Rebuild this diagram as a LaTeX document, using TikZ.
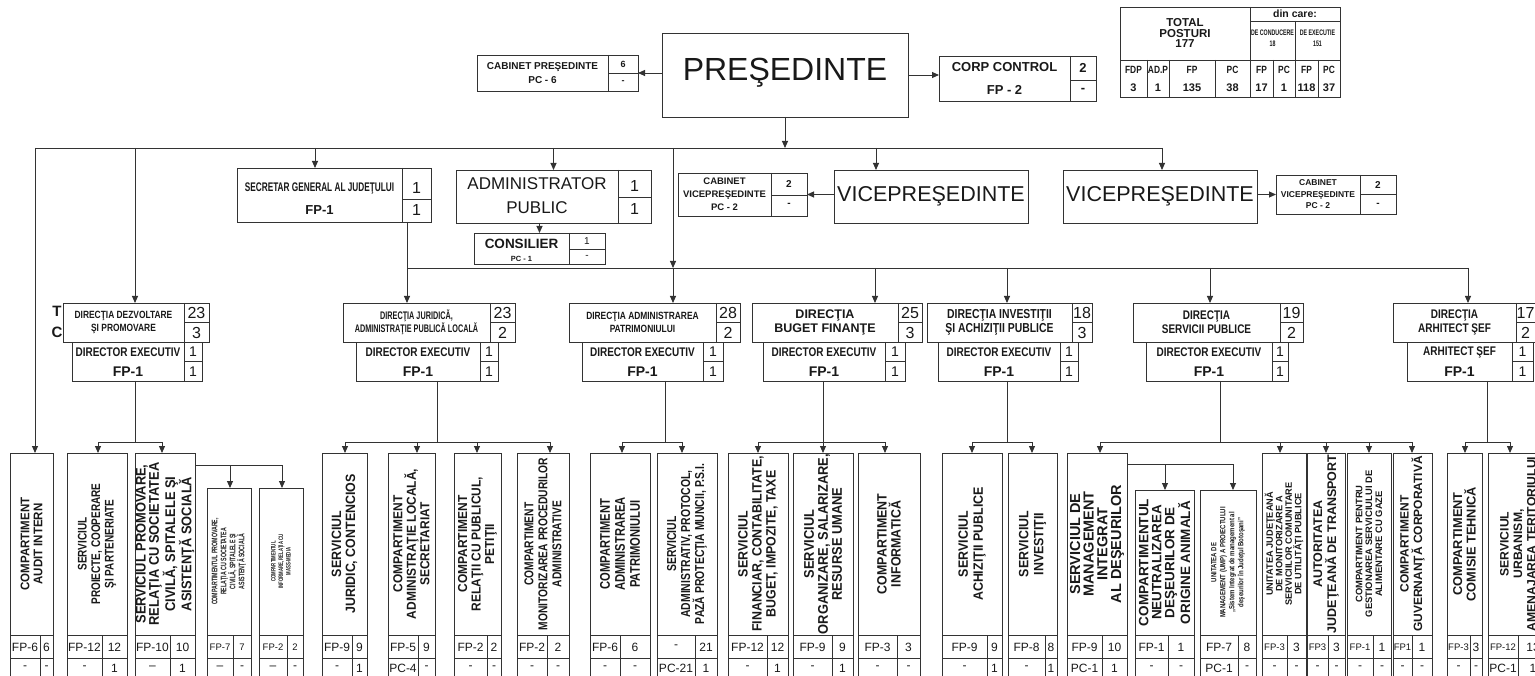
\documentclass[tikz,border=0pt]{standalone}
\usepackage{fontspec}
\setmainfont{Liberation Sans}
\newfontfamily\ffa[FakeStretch=0.92]{Liberation Sans}
\newfontfamily\ffb[FakeStretch=0.8]{Liberation Sans}
\newfontfamily\ffc[FakeStretch=0.66]{Liberation Sans}
\usetikzlibrary{arrows.meta,calc}
\newcommand\fs[2]{\fontsize{#1}{#2}\selectfont}
\newcommand\sm{\fontsize{9.5}{9.5}\selectfont}
\def\pfirst#1/#2\relax{#1}
\def\psecond#1/#2\relax{#2}
\tikzset{
  ln/.style={line width=0.9pt, draw=black!80},
  arr/.style={ln, -{Triangle[length=7pt,width=6pt]}},
  bx/.style={ln, draw, rectangle, inner sep=0pt, outer sep=0pt, anchor=north west},
  tx/.style={inner sep=0pt, align=center, text=black!90},
}
\newcommand\rbox[5]{%
  \pgfmathsetmacro\rbw{#4-#2}\pgfmathsetmacro\rbh{#5-#3}%
  \node[bx, minimum width=\rbw pt, minimum height=\rbh pt] (#1) at (#2,#3) {};}
\newcommand\unitbx[9]{%
  \rbox{#1}{#2}{#5}{#3}{635}%
  \node[tx, rotate=90, font={#6}] (#1-t) at (#1.center) {#7};%
  \pgfmathsetmacro\uxa{(#2+#4)/2}\pgfmathsetmacro\uxb{(#4+#3)/2}%
  \draw[ln] (#2,635) -- (#2,690) (#3,635) -- (#3,690) (#4,635) -- (#4,690) (#2,658) -- (#3,658);%
  \node[tx, font=\fs{12}{12}] (#1-a) at (\uxa,647) {\pfirst#8\relax};%
  \node[tx, font=\fs{12}{12}] (#1-b) at (\uxb,647) {\psecond#8\relax};%
  \node[tx, font=\fs{12}{12}] (#1-c) at (\uxa,668) {\pfirst#9\relax};%
  \node[tx, font=\fs{12}{12}] (#1-d) at (\uxb,668) {\psecond#9\relax};}
\newcommand\dirbx[8]{%
  \rbox{#1}{#2}{303}{#3}{342}%
  \draw[ln] (#4,303) -- (#4,342) (#4,322.5) -- (#3,322.5);%
  \pgfmathsetmacro\uxa{(#2+#4)/2}\pgfmathsetmacro\uxb{(#4+#3)/2}%
  \node[tx, font={#5}] (#1-t) at (\uxa,322.5) {#6};%
  \node[tx, font=\fs{16}{16}] (#1-a) at (\uxb,313) {#7};%
  \node[tx, font=\fs{16}{16}] (#1-b) at (\uxb,332.5) {#8};}
\newcommand\direx[7]{%
  \rbox{#1}{#2}{342}{#3}{381}%
  \draw[ln] (#4,342) -- (#4,381) (#4,361.5) -- (#3,361.5);%
  \pgfmathsetmacro\uxa{(#2+#4)/2}\pgfmathsetmacro\uxb{(#4+#3)/2}%
  \node[tx, font={#5}] (#1-t) at (\uxa,352) {#6};%
  \node[tx, font=\bfseries\fs{14}{14}] (#1-f) at (\uxa,371.5) {FP-1};%
  \node[tx, font=\fs{14}{14}] (#1-a) at (\uxb,352) {#7};%
  \node[tx, font=\fs{14}{14}] (#1-b) at (\uxb,371.5) {#7};}
\newcommand\drop[2]{\draw[arr] (#2,442) -- (#2,442 |- #1.north);}

\begin{document}
\begin{tikzpicture}[x=1pt,y=-1pt]
\path[use as bounding box] (0,0) rectangle (1535,676);
\fill[white] (0,0) rectangle (1535,676);
\clip (0,0) rectangle (1535,676);

% ---------- top row ----------
\rbox{cp}{477}{55}{638}{91}
\draw[ln] (608,55) -- (608,91) (608,73) -- (638,73);
\node[tx, font=\bfseries\fs{10}{14}] (cp-t) at (542.5,73) {CABINET PREŞEDINTE\\PC - 6};
\node[tx, font=\bfseries\fs{9}{9}] (cp-a) at (623,64) {6};
\node[tx, font=\bfseries\fs{9}{9}] (cp-b) at (623,82) {-};

\rbox{pres}{662}{33}{908}{117}
\node[tx, font=\fs{32}{32}] (pres-t) at (785,73) {PREŞEDINTE};

\rbox{cc}{939}{56}{1096}{101}
\draw[ln] (1070,56) -- (1070,101) (1070,80) -- (1096,80);
\node[tx, font=\bfseries\fs{13}{13}] (cc-t) at (1004.5,67) {CORP CONTROL};
\node[tx, font=\bfseries\fs{13}{13}] (cc-f) at (1004.5,90) {FP - 2};
\node[tx, font=\bfseries\fs{13}{13}] (cc-a) at (1083,68) {2};
\node[tx, font=\bfseries\fs{13}{13}] (cc-b) at (1083,90) {-};

\draw[arr] (pres.west |- cp.east) -- (cp.east);
\draw[arr] (pres.east) -- (cc.west |- pres.east);

% ---------- total table ----------
\draw[ln] (1120,7) rectangle (1340,97);
\draw[ln] (1120,60) -- (1340,60) (1250,7) -- (1250,97) (1250,21) -- (1340,21) (1295,21) -- (1295,97);
\draw[ln] (1147,60) -- (1147,97) (1169,60) -- (1169,97) (1215,60) -- (1215,97) (1273,60) -- (1273,97) (1318,60) -- (1318,97);
\node[tx, font=\bfseries\fs{11.5}{10.5}] (tot) at (1185,33) {TOTAL\\POSTURI\\177};
\node[tx, font=\bfseries\fs{10.5}{10.5}] (dc) at (1295,14) {din care:};
\node[tx, font=\ffc\bfseries\fs{8}{11}] (dcc) at (1272.5,38) {DE CONDUCERE\\18};
\node[tx, font=\ffc\bfseries\fs{8}{11}] (dce) at (1317.5,38) {DE EXECUTIE\\151};
\foreach \nm/\xx/\hh/\vv in {h1/1133.5/FDP/3, h2/1158/AD.P/1, h3/1192/FP/135, h4/1232.5/PC/38, h5/1261.5/FP/17, h6/1284/PC/1, h7/1306.5/FP/118, h8/1329/PC/37}{
  \node[tx, font=\ffb\bfseries\fs{10.5}{10.5}] (\nm) at (\xx,70) {\hh};
  \node[tx, font=\bfseries\fs{11}{11}] (\nm v) at (\xx,88) {\vv};
}

% ---------- second row ----------
\rbox{sg}{237}{168}{431}{222}
\draw[ln] (402,168) -- (402,222) (402,199) -- (431,199);
\node[tx, font=\ffc\bfseries\fs{12.5}{12.5}] (sg-t) at (319.5,188) {SECRETAR GENERAL AL JUDEŢULUI};
\node[tx, font=\bfseries\fs{13}{13}] (sg-f) at (319.5,210) {FP-1};
\node[tx, font=\fs{16}{16}] (sg-a) at (416.5,188) {1};
\node[tx, font=\fs{16}{16}] (sg-b) at (416.5,210) {1};

\rbox{ap}{456}{170}{651}{223}
\draw[ln] (618,170) -- (618,223) (618,197) -- (651,197);
\node[tx, font=\fs{17}{24}] (ap-t) at (537,196) {ADMINISTRATOR\\PUBLIC};
\node[tx, font=\fs{16}{16}] (ap-a) at (634.5,186) {1};
\node[tx, font=\fs{16}{16}] (ap-b) at (634.5,209) {1};

\rbox{cons}{474}{233}{605}{264}
\draw[ln] (569,233) -- (569,264) (569,249) -- (605,249);
\node[tx, font=\bfseries\fs{13.5}{13.5}] (cons-t) at (521.5,244) {CONSILIER};
\node[tx, font=\bfseries\fs{7.5}{7.5}] (cons-f) at (521.5,259) {PC - 1};
\node[tx, font=\fs{10}{10}] (cons-a) at (587,241) {1};
\node[tx, font=\fs{10}{10}] (cons-b) at (587,257) {-};

\rbox{cv1}{678}{173}{807}{216}
\draw[ln] (771,173) -- (771,216) (771,195) -- (807,195);
\node[tx, font=\bfseries\fs{9.5}{13}] (cv1-t) at (724.5,194.5) {CABINET\\VICEPREŞEDINTE\\PC - 2};
\node[tx, font=\bfseries\fs{10}{10}] (cv1-a) at (789,184) {2};
\node[tx, font=\bfseries\fs{10}{10}] (cv1-b) at (789,205) {-};

\rbox{vp1}{834}{170}{1028}{223}
\node[tx, font=\fs{21.5}{21.5}] (vp1-t) at (vp1.center) {VICEPREŞEDINTE};
\rbox{vp2}{1063}{170}{1257}{223}
\node[tx, font=\fs{21.5}{21.5}] (vp2-t) at (vp2.center) {VICEPREŞEDINTE};

\rbox{cv2}{1276}{175}{1396}{214}
\draw[ln] (1360,175) -- (1360,214) (1360,194.5) -- (1396,194.5);
\node[tx, font=\bfseries\fs{8.5}{11.5}] (cv2-t) at (1318,194.5) {CABINET\\VICEPREŞEDINTE\\PC - 2};
\node[tx, font=\bfseries\fs{10}{10}] (cv2-a) at (1378,185) {2};
\node[tx, font=\bfseries\fs{10}{10}] (cv2-b) at (1378,204.5) {-};

\draw[arr] (vp1.west |- cv1.east) -- (cv1.east);
\draw[arr] (vp2.east |- cv2.west) -- (cv2.west);
\draw[arr] (ap.south -| cons.north) -- (cons.north);

% ---------- directions ----------
\node[tx, font=\bfseries\fs{15}{15}] (tT) at (57,311) {T};
\node[tx, font=\bfseries\fs{15}{15}] (tC) at (57,332) {C};
\dirbx{dz}{63}{209}{184}{\ffb\bfseries\fs{10.5}{13}}{DIRECŢIA DEZVOLTARE\\ŞI PROMOVARE}{23}{3}
\direx{dzE}{72}{202}{184}{\ffb\bfseries\fs{12.5}{12.5}}{DIRECTOR EXECUTIV}{1}
\dirbx{jr}{343}{515}{490}{\ffc\bfseries\fs{11}{13}}{DIRECŢIA JURIDICĂ,\\ADMINISTRAŢIE PUBLICĂ LOCALĂ}{23}{2}
\direx{jrE}{356}{498}{480}{\ffb\bfseries\fs{12.5}{12.5}}{DIRECTOR EXECUTIV}{1}
\dirbx{pt}{569}{740}{716}{\ffb\bfseries\fs{10.5}{13}}{DIRECŢIA ADMINISTRAREA\\PATRIMONIULUI}{28}{2}
\direx{ptE}{582}{723}{703}{\ffb\bfseries\fs{12.5}{12.5}}{DIRECTOR EXECUTIV}{1}
\dirbx{bg}{752}{922}{898}{\bfseries\fs{12.5}{14}}{DIRECŢIA\\BUGET FINANŢE}{25}{3}
\direx{bgE}{763}{905}{885}{\ffb\bfseries\fs{12.5}{12.5}}{DIRECTOR EXECUTIV}{1}
\dirbx{iv}{927}{1092}{1072}{\ffb\bfseries\fs{13}{14}}{DIRECŢIA INVESTIŢII\\ŞI ACHIZIŢII PUBLICE}{18}{3}
\direx{ivE}{938}{1078}{1060}{\ffb\bfseries\fs{12.5}{12.5}}{DIRECTOR EXECUTIV}{1}
\dirbx{sp}{1133}{1303}{1280}{\ffb\bfseries\fs{12.5}{14}}{DIRECŢIA\\SERVICII PUBLICE}{19}{2}
\direx{spE}{1146}{1288}{1272}{\ffb\bfseries\fs{12.5}{12.5}}{DIRECTOR EXECUTIV}{1}
\dirbx{ar}{1393}{1535}{1516}{\ffb\bfseries\fs{12.5}{14}}{DIRECŢIA\\ARHITECT ŞEF}{17}{2}
\direx{arE}{1407}{1533}{1512}{\ffb\bfseries\fs{12.5}{12.5}}{ARHITECT ŞEF}{1}

% ---------- bottom units ----------
\unitbx{audit}{10}{53}{40}{453}{\ffa\bfseries\fs{12.5}{13}}{COMPARTIMENT\\AUDIT INTERN}{FP-6/6}{-/-}
\unitbx{proi}{67}{127}{102}{453}{\ffb\bfseries\fs{12.5}{13.5}}{SERVICIUL\\PROIECTE, COOPERARE\\ŞI PARTENERIATE}{FP-12/12}{-/1}
\unitbx{prom}{135}{195}{170}{453}{\ffa\bfseries\fs{14}{13.3}}{SERVICIUL PROMOVARE,\\RELAŢIA CU SOCIETATEA\\CIVILĂ, SPITALELE ŞI\\ASISTENŢĂ SOCIALĂ}{FP-10/10}{--/1}
\unitbx{sprom}{207}{251}{233}{488}{\ffc\bfseries\fs{8}{9}}{COMPARTIMENTUL PROMOVARE,\\RELAŢIA CU SOCIETATEA\\CIVILĂ, SPITALELE ŞI\\ASISTENŢĂ SOCIALĂ}{\sm FP-7/\sm 7}{--/-}
\unitbx{sinf}{259}{303}{287}{488}{\ffc\bfseries\fs{6.5}{7.5}}{COMPARTIMENTUL\\INFORMARE, RELAŢIA CU\\MASS-MEDIA}{\sm FP-2/\sm 2}{--/-}
\unitbx{jurc}{322}{367}{352}{453}{\ffa\bfseries\fs{13.5}{14}}{SERVICIUL\\JURIDIC, CONTENCIOS}{FP-9/9}{-/1}
\unitbx{admloc}{388}{435}{418}{453}{\ffa\bfseries\fs{13}{13.5}}{COMPARTIMENT\\ADMINISTRAŢIE LOCALĂ,\\SECRETARIAT}{FP-5/9}{PC-4/-}
\unitbx{relp}{454}{501}{487}{453}{\ffa\bfseries\fs{13}{13.5}}{COMPARTIMENT\\RELAŢII CU PUBLICUL,\\PETIŢII}{FP-2/2}{-/-}
\unitbx{monit}{517}{569}{547}{453}{\ffb\bfseries\fs{12.8}{14}}{COMPARTIMENT\\MONITORIZAREA PROCEDURILOR\\ADMINISTRATIVE}{FP-2/2}{-/-}
\unitbx{patc}{590}{650}{620}{453}{\ffb\bfseries\fs{14}{15}}{COMPARTIMENT\\ADMINISTRAREA\\PATRIMONIULUI}{FP-6/6}{-/-}
\unitbx{advs}{657}{717}{695}{453}{\ffb\bfseries\fs{13}{14}}{SERVICIUL\\ADMINISTRATIV, PROTOCOL,\\PAZĂ PROTECŢIA MUNCII, P.S.I.}{-/21}{PC-21/1}
\unitbx{finc}{728}{788}{767}{453}{\ffa\bfseries\fs{13.5}{14}}{SERVICIUL\\FINANCIAR, CONTABILITATE,\\BUGET, IMPOZITE, TAXE}{FP-12/12}{-/1}
\unitbx{orgs}{793}{853}{832}{453}{\ffa\bfseries\fs{14}{14}}{SERVICIUL\\ORGANIZARE, SALARIZARE,\\RESURSE UMANE}{FP-9/9}{-/1}
\unitbx{infc}{858}{920}{897}{453}{\ffa\bfseries\fs{13.5}{14}}{COMPARTIMENT\\INFORMATICĂ}{FP-3/3}{-/-}
\unitbx{achs}{942}{1002}{987}{453}{\ffa\bfseries\fs{13.5}{15}}{SERVICIUL\\ACHIZIŢII PUBLICE}{FP-9/9}{-/1}
\unitbx{invs}{1008}{1057}{1045}{453}{\ffa\bfseries\fs{13.5}{15}}{SERVICIUL\\INVESTIŢII}{FP-8/8}{-/1}
\unitbx{dess}{1067}{1127}{1102}{453}{\bfseries\fs{14.5}{13.7}}{SERVICIUL DE\\MANAGEMENT\\INTEGRAT\\AL DEŞEURILOR}{FP-9/10}{PC-1/1}
\unitbx{neut}{1135}{1194}{1168}{490}{\bfseries\fs{13.5}{13}}{COMPARTIMENTUL\\NEUTRALIZAREA\\DEŞEURILOR DE\\ORIGINE ANIMALĂ}{FP-1/1}{-/-}
\unitbx{uimp}{1200}{1256}{1238}{490}{\ffb\bfseries\fs{7.5}{9}}{UNITATEA DE\\MANAGEMENT (UMP) A PROIECTULUI\\„Sistem Integrat de management al\\deşeurilor în Judeţul Botoşani”}{FP-7/8}{PC-1/-}
\unitbx{ujud}{1262}{1306}{1287}{453}{\bfseries\fs{9.2}{9.5}}{UNITATEA JUDEŢEANĂ\\DE MONITORIZARE A\\SERVICIILOR COMUNITARE\\DE UTILITĂŢI PUBLICE}{\sm FP-3/3}{-/-}
\unitbx{autj}{1307}{1345}{1328}{453}{\bfseries\fs{12.5}{14}}{AUTORITATEA\\JUDEŢEANĂ DE TRANSPORT}{\sm FP3/3}{-/-}
\unitbx{gaze}{1347}{1391}{1373}{453}{\bfseries\fs{9.4}{10}}{COMPARTIMENT PENTRU\\GESTIONAREA SERVICIULUI DE\\ALIMENTARE CU GAZE}{\sm FP-1/1}{-/-}
\unitbx{guvc}{1393}{1432}{1412}{453}{\bfseries\fs{12}{13.5}}{COMPARTIMENT\\GUVERNANŢĂ CORPORATIVĂ}{\sm FP1/1}{-/-}
\unitbx{comt}{1447}{1482}{1470}{453}{\bfseries\fs{12.8}{13.5}}{COMPARTIMENT\\COMISIE TEHNICĂ}{\sm FP-3/3}{-/-}
\unitbx{urbs}{1488}{1548}{1518}{453}{\bfseries\fs{12.2}{13.5}}{SERVICIUL\\URBANISM,\\AMENAJAREA TERITORIULUI}{\sm FP-12/13}{PC-1/1}

% ---------- top connectors ----------
\coordinate (tb) at (35,148);
\draw[ln] (tb) -- (1162,148);
\draw[arr] (pres.south) -- (pres.south |- tb);
\draw[arr] (tb) -- (tb |- audit.north);
\draw[arr] (135,148) -- (135,148 |- dz.north);
\draw[arr] (315,148) -- (315,148 |- sg.north);
\draw[arr] (ap.north |- tb) -- (ap.north);
\draw[arr] (876,148) -- (876,148 |- vp1.north);
\draw[arr] (1162,148) -- (1162,148 |- vp2.north);
\coordinate (db) at (673,268);
\draw[arr] (673,148) -- (db);
\draw[ln] (407,268) -- (1468,268);
\draw[ln] (sg.south -| 407,0) -- (407,268);
\draw[arr] (407,268) -- (407,268 |- jr.north);
\draw[arr] (db) -- (db |- pt.north);
\draw[arr] (875,268) -- (875,268 |- bg.north);
\draw[arr] (1007,268) -- (1007,268 |- iv.north);
\draw[arr] (1210,268) -- (1210,268 |- sp.north);
\draw[arr] (1468,268) -- (1468,268 |- ar.north);

% ---------- lower connectors ----------
\draw[ln] (dzE.south -| 135,0) -- (135,442);
\draw[ln] (98,442) -- (162,442);
\drop{proi}{98}\drop{prom}{162}
\coordinate (pr1) at (282,465);
\draw[ln] (prom.east |- pr1) -- (pr1);
\draw[arr] (230,465) -- (230,465 |- sprom.north);
\draw[arr] (pr1) -- (pr1 |- sinf.north);

\draw[ln] (jrE.south -| 437,0) -- (437,442);
\draw[ln] (345,442) -- (550,442);
\drop{jurc}{345}\drop{admloc}{417}\drop{relp}{477}\drop{monit}{550}

\draw[ln] (ptE.south -| 665,0) -- (665,442);
\draw[ln] (622,442) -- (682,442);
\drop{patc}{622}\drop{advs}{682}

\draw[ln] (bgE.south -| 823,0) -- (823,442);
\draw[ln] (758,442) -- (885,442);
\drop{finc}{758}\drop{orgs}{823}\drop{infc}{885}

\draw[ln] (ivE.south -| 1007,0) -- (1007,442);
\draw[ln] (972,442) -- (1032,442);
\drop{achs}{972}\drop{invs}{1032}

\draw[ln] (spE.south -| 1220,0) -- (1220,442);
\draw[ln] (1100,442) -- (1412,442);
\drop{dess}{1100}\drop{ujud}{1280}\drop{autj}{1326}\drop{gaze}{1369}\drop{guvc}{1412}
\coordinate (ds1) at (1233,464);
\draw[ln] (dess.east |- ds1) -- (ds1);
\draw[arr] (1165,464) -- (1165,464 |- neut.north);
\draw[arr] (ds1) -- (ds1 |- uimp.north);

\draw[ln] (arE.south -| 1487,0) -- (1487,442);
\draw[ln] (1465,442) -- (1510,442);
\drop{comt}{1465}\drop{urbs}{1510}
\end{tikzpicture}
\end{document}
